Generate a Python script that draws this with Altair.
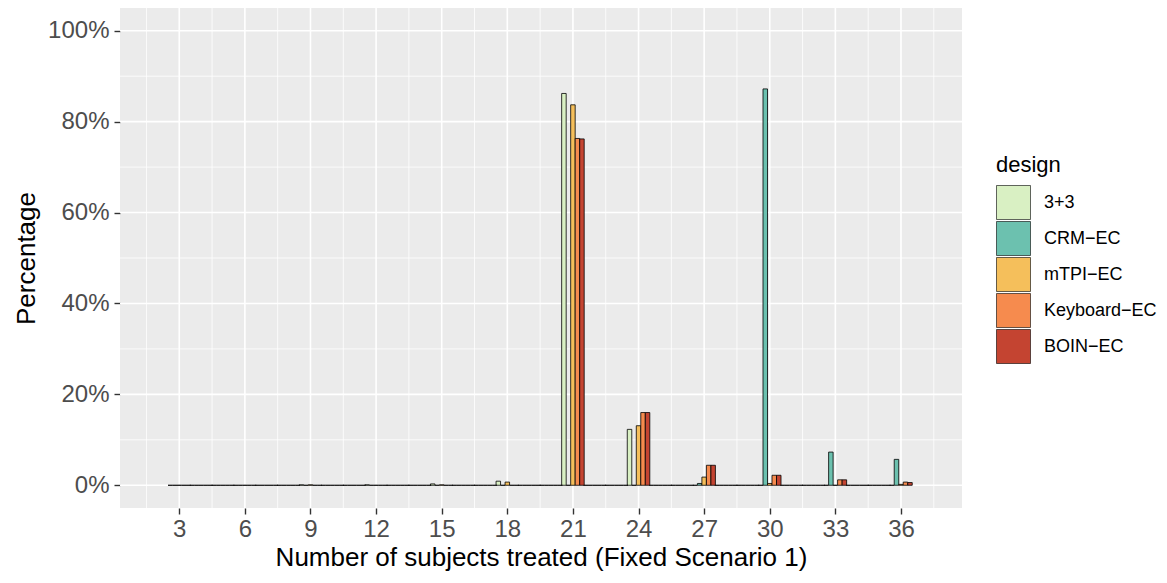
import altair as alt
import pandas as pd

designs = ["3+3", "CRM\u2212EC", "mTPI\u2212EC", "Keyboard\u2212EC", "BOIN\u2212EC"]
colors = ["#D9F0C3", "#6CC1AF", "#F5BF5B", "#F68B4E", "#C44431"]
subjects = list(range(3, 37))

# percentages (non-zero entries only), keyed by number of subjects
pct_33 = {9: 0.1, 12: 0.1, 15: 0.3, 18: 0.9, 21: 86.2, 24: 12.3}
pct_crm = {27: 0.4, 30: 87.2, 33: 7.3, 36: 5.7}
pct_mtpi = {9: 0.1, 15: 0.1, 18: 0.7, 21: 83.7, 24: 13.1, 27: 1.8, 30: 0.4, 36: 0.2}
pct_keyboard = {21: 76.3, 24: 16.0, 27: 4.4, 30: 2.2, 33: 1.2, 36: 0.7}
pct_boin = {21: 76.2, 24: 16.0, 27: 4.4, 30: 2.2, 33: 1.2, 36: 0.6}

x_ticks = list(range(3, 37, 3))
x_minor = [1.5 + 3 * k for k in range(13)]
y_ticks = [0, 0.2, 0.4, 0.6, 0.8, 1.0]
y_minor = [0.1, 0.3, 0.5, 0.7, 0.9]

series = [pct_33, pct_crm, pct_mtpi, pct_keyboard, pct_boin]
group_width = 1.03
bw = group_width / len(designs)
rows = []
for i, (d, s) in enumerate(zip(designs, series)):
    for n in subjects:
        x0 = n - group_width / 2 + i * bw
        rows.append({"design": d, "n": n, "x0": x0, "x1": x0 + bw,
                     "pct": s.get(n, 0.0) / 100.0})
df = pd.DataFrame(rows)

FONT = "Liberation Sans"
xscale = alt.Scale(domain=[0.29, 38.79], nice=False, zero=False)
yscale = alt.Scale(domain=[-0.05, 1.05], nice=False, zero=False)

xaxis = alt.Axis(values=x_ticks, grid=False, domain=False, tickColor="#333333",
                 tickWidth=1.4, tickSize=6, labelFontSize=24, labelColor="#4D4D4D",
                 labelFont=FONT, labelPadding=3,
                 title="Number of subjects treated (Fixed Scenario 1)",
                 titleFont=FONT, titleFontSize=26, titleFontWeight="normal",
                 titleColor="black", titlePadding=3)
yaxis = alt.Axis(values=y_ticks, format=".0%", grid=False, domain=False,
                 tickColor="#333333", tickWidth=1.4, tickSize=6, labelFontSize=24,
                 labelColor="#4D4D4D", labelFont=FONT, labelPadding=5,
                 title="Percentage", titleFont=FONT, titleFontSize=26,
                 titleFontWeight="normal", titleColor="black", titlePadding=8)

vmaj = alt.Chart(pd.DataFrame({"v": x_ticks})).mark_rule(color="white", strokeWidth=1.6).encode(
    x=alt.X("v:Q", scale=xscale, axis=xaxis))
vmin = alt.Chart(pd.DataFrame({"v": x_minor})).mark_rule(color="white", strokeWidth=0.8).encode(
    x=alt.X("v:Q", scale=xscale, axis=xaxis))
hmaj = alt.Chart(pd.DataFrame({"v": y_ticks})).mark_rule(color="white", strokeWidth=1.6).encode(
    y=alt.Y("v:Q", scale=yscale, axis=yaxis))
hmin = alt.Chart(pd.DataFrame({"v": y_minor})).mark_rule(color="white", strokeWidth=0.8).encode(
    y=alt.Y("v:Q", scale=yscale, axis=yaxis))

bars = alt.Chart(df).mark_bar(stroke="black", strokeWidth=0.8, opacity=1).encode(
    x=alt.X("x0:Q", scale=xscale, axis=xaxis),
    x2="x1:Q",
    y=alt.Y("pct:Q", scale=yscale, axis=yaxis),
    y2=alt.datum(0),
    color=alt.Color("design:N", scale=alt.Scale(domain=designs, range=colors),
                    legend=alt.Legend(orient="none", legendX=876, legendY=147,
                                      title="design", titleFont=FONT, titleFontSize=22,
                                      titleFontWeight="normal", titleColor="black",
                                      titlePadding=8, symbolType="square", symbolSize=1156,
                                      symbolStrokeColor="black", symbolStrokeWidth=0.6,
                                      symbolOpacity=1, rowPadding=-3, labelFont=FONT,
                                      labelFontSize=18, labelColor="black", labelOffset=13)),
)

chart = alt.layer(vmin, hmin, vmaj, hmaj, bars).resolve_axis(x="shared", y="shared").properties(
    width=842, height=500,
    padding={"left": 120, "top": 8, "right": 205, "bottom": 75},
    autosize=alt.AutoSizeParams(type="none"),
    background="white",
).configure_view(fill="#EBEBEB", stroke=None)

chart.save("out.html", embed_options={"renderer": "svg", "actions": False})
